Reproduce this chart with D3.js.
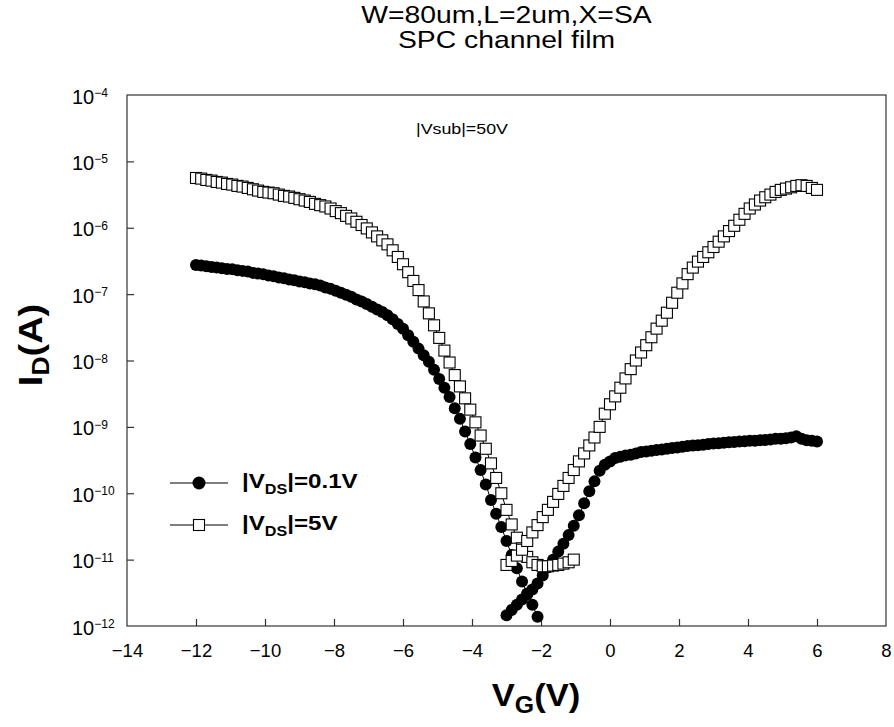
<!DOCTYPE html>
<html>
<head>
<meta charset="utf-8">
<script src="https://cdn.jsdelivr.net/npm/d3@7/dist/d3.min.js"></script>
<style>
  html, body { margin: 0; padding: 0; background: #fff; }
  svg { display: block; font-family: "Liberation Sans", Arial, sans-serif; }
</style>
</head>
<body>
<svg id="chart" width="894" height="727"></svg>
<script>
// Gate voltage sweeps (V)
const vgLeft = [-12, -11.85, -11.7, -11.55, -11.4, -11.25, -11.1, -10.95, -10.8, -10.65,
  -10.5, -10.35, -10.2, -10.05, -9.9, -9.75, -9.6, -9.45, -9.3, -9.15,
  -9, -8.85, -8.7, -8.55, -8.4, -8.25, -8.1, -7.95, -7.8, -7.65,
  -7.5, -7.35, -7.2, -7.05, -6.9, -6.75, -6.6, -6.45, -6.3, -6.15,
  -6, -5.85, -5.7, -5.55, -5.4, -5.25, -5.1, -4.95, -4.8, -4.65,
  -4.5, -4.35, -4.2, -4.05, -3.9, -3.75, -3.6, -3.45, -3.3, -3.15,
  -3, -2.85, -2.7, -2.55, -2.4, -2.25, -2.1, -1.95, -1.8, -1.65,
  -1.5, -1.35, -1.2, -1.05];
const vgRight = [-3, -2.85, -2.7, -2.55, -2.4, -2.25, -2.1, -1.95, -1.8, -1.65,
  -1.5, -1.35, -1.2, -1.05, -0.9, -0.75, -0.6, -0.45, -0.3, -0.15,
  0, 0.15, 0.3, 0.45, 0.6, 0.75, 0.9, 1.05, 1.2, 1.35,
  1.5, 1.65, 1.8, 1.95, 2.1, 2.25, 2.4, 2.55, 2.7, 2.85,
  3, 3.15, 3.3, 3.45, 3.6, 3.75, 3.9, 4.05, 4.2, 4.35,
  4.5, 4.65, 4.8, 4.95, 5.1, 5.25, 5.4, 5.55, 5.7, 5.85, 6];

// Drain current (A), |VDS| = 0.1 V
const idLow_left = [2.75e-7, 2.69e-7, 2.63e-7, 2.57e-7, 2.51e-7, 2.45e-7, 2.40e-7, 2.38e-7, 2.29e-7, 2.24e-7,
  2.19e-7, 2.09e-7, 2.04e-7, 2.00e-7, 1.91e-7, 1.86e-7, 1.78e-7, 1.74e-7, 1.66e-7, 1.62e-7,
  1.55e-7, 1.51e-7, 1.45e-7, 1.41e-7, 1.35e-7, 1.26e-7, 1.20e-7, 1.12e-7, 1.05e-7, 9.77e-8,
  9.12e-8, 8.32e-8, 7.76e-8, 7.08e-8, 6.46e-8, 5.89e-8, 5.37e-8, 4.79e-8, 4.17e-8, 3.55e-8,
  3.02e-8, 2.40e-8, 1.91e-8, 1.51e-8, 1.20e-8, 9.55e-9, 7.24e-9, 5.25e-9, 3.89e-9, 2.82e-9,
  1.91e-9, 1.32e-9, 8.51e-10, 5.50e-10, 3.47e-10, 2.24e-10, 1.35e-10, 7.94e-11, 4.90e-11, 3.09e-11,
  1.91e-11, 1.17e-11, 7.41e-12, 4.68e-12, 3.09e-12, 2.09e-12, 1.38e-12];
const idLow_right = [1.45e-12, 1.74e-12, 2.09e-12, 2.51e-12, 3.02e-12, 3.55e-12, 4.37e-12, 5.75e-12, 7.59e-12, 1.00e-11,
  1.32e-11, 1.74e-11, 2.34e-11, 3.24e-11, 4.68e-11, 7.08e-11, 1.07e-10, 1.51e-10, 2.19e-10, 2.69e-10,
  3.02e-10, 3.39e-10, 3.55e-10, 3.72e-10, 3.80e-10, 3.98e-10, 4.17e-10, 4.27e-10, 4.37e-10, 4.47e-10,
  4.57e-10, 4.68e-10, 4.79e-10, 4.90e-10, 5.01e-10, 5.13e-10, 5.25e-10, 5.30e-10, 5.37e-10, 5.50e-10,
  5.62e-10, 5.65e-10, 5.75e-10, 5.89e-10, 5.90e-10, 6.03e-10, 6.05e-10, 6.17e-10, 6.20e-10, 6.31e-10,
  6.33e-10, 6.46e-10, 6.61e-10, 6.63e-10, 6.76e-10, 6.92e-10, 7.24e-10, 6.61e-10, 6.31e-10, 6.17e-10, 6.03e-10];

// Drain current (A), |VDS| = 5 V
const idHigh_left = [5.62e-6, 5.50e-6, 5.25e-6, 5.13e-6, 4.90e-6, 4.79e-6, 4.57e-6, 4.47e-6, 4.27e-6, 4.17e-6,
  3.98e-6, 3.80e-6, 3.63e-6, 3.47e-6, 3.39e-6, 3.31e-6, 3.16e-6, 3.02e-6, 2.95e-6, 2.82e-6,
  2.69e-6, 2.57e-6, 2.45e-6, 2.29e-6, 2.19e-6, 2.09e-6, 1.95e-6, 1.78e-6, 1.66e-6, 1.51e-6,
  1.38e-6, 1.23e-6, 1.10e-6, 9.77e-7, 8.51e-7, 7.41e-7, 6.46e-7, 5.62e-7, 4.57e-7, 3.63e-7,
  2.82e-7, 2.14e-7, 1.58e-7, 1.15e-7, 7.76e-8, 5.13e-8, 3.39e-8, 2.19e-8, 1.41e-8, 9.33e-9,
  6.03e-9, 4.07e-9, 2.69e-9, 1.82e-9, 1.17e-9, 7.41e-10, 4.68e-10, 2.82e-10, 1.70e-10, 1.00e-10,
  5.62e-11, 3.39e-11, 2.14e-11, 1.48e-11, 1.10e-11, 9.12e-12, 8.32e-12, 7.94e-12, 7.94e-12, 8.13e-12,
  8.32e-12, 8.71e-12, 9.12e-12, 1.00e-11];
const idHigh_right = [8.32e-12, 9.55e-12, 1.15e-11, 1.41e-11, 1.91e-11, 2.57e-11, 3.31e-11, 4.37e-11, 5.62e-11, 7.41e-11,
  9.77e-11, 1.29e-10, 1.70e-10, 2.24e-10, 3.02e-10, 3.98e-10, 5.25e-10, 6.92e-10, 1.00e-9, 1.58e-9,
  2.19e-9, 2.88e-9, 3.89e-9, 5.37e-9, 7.41e-9, 1.00e-8, 1.32e-8, 1.70e-8, 2.24e-8, 3.02e-8,
  3.98e-8, 5.25e-8, 7.41e-8, 1.05e-7, 1.45e-7, 2.00e-7, 2.51e-7, 3.09e-7, 3.63e-7, 4.27e-7,
  5.13e-7, 6.17e-7, 7.41e-7, 8.91e-7, 1.07e-6, 1.32e-6, 1.62e-6, 1.95e-6, 2.24e-6, 2.57e-6,
  2.88e-6, 3.16e-6, 3.47e-6, 3.72e-6, 3.89e-6, 4.07e-6, 4.27e-6, 4.37e-6, 4.27e-6, 3.98e-6, 3.72e-6];

// Axis ticks
const xTicks = [-14, -12, -10, -8, -6, -4, -2, 0, 2, 4, 6, 8];
const yExponents = [-4, -5, -6, -7, -8, -9, -10, -11, -12];

const titleLines = ["W=80um,L=2um,X=SA", "SPC channel film"];
const annotation = "|Vsub|=50V";

const W = 894, H = 727;
const margin = { top: 95, right: 8, bottom: 101, left: 127 };
const svg = d3.select("#chart");
const minus = v => (v < 0 ? "\u2212" + Math.abs(v) : String(v));

const x = d3.scaleLinear().domain([-14, 8]).range([margin.left, W - margin.right]);
const y = d3.scaleLog().domain([1e-12, 1e-4]).range([H - margin.bottom, margin.top]);

// Text block with a slight horizontal widening of the glyphs
function wideText(parent, px, py, sx, rotate) {
  const g = parent.append("g")
    .attr("transform", `translate(${px},${py})` + (rotate ? ` rotate(${rotate})` : "") + ` scale(${sx},1)`);
  return g.append("text").attr("x", 0).attr("y", 0).attr("fill", "#000");
}

// Frame: left/bottom axes with inward ticks, plain right and top edges
svg.append("rect")
  .attr("x", x(-14)).attr("y", y(1e-4))
  .attr("width", x(8) - x(-14)).attr("height", y(1e-12) - y(1e-4))
  .attr("fill", "none").attr("stroke", "#333").attr("stroke-width", 1.2);

const xAxis = d3.axisBottom(x).tickValues(xTicks).tickSize(-7).tickPadding(18)
  .tickFormat(minus);
const gx = svg.append("g").attr("transform", `translate(0,${y(1e-12)})`).call(xAxis);
gx.select(".domain").remove();
gx.selectAll(".tick line").attr("stroke", "#333").attr("stroke-width", 1.2);
gx.selectAll(".tick text").attr("font-size", 18.5).attr("fill", "#000")
  .attr("font-family", "'Liberation Sans', Arial, sans-serif");
gx.selectAll(".tick").filter(d => d === -14 || d === 8).select("line").remove();

const yAxis = d3.axisLeft(y).tickValues(yExponents.map(e => Math.pow(10, e))).tickSize(-7).tickFormat("");
const gy = svg.append("g").attr("transform", `translate(${x(-14)},0)`).call(yAxis);
gy.select(".domain").remove();
gy.selectAll(".tick line").attr("stroke", "#333").attr("stroke-width", 1.2);
gy.selectAll(".tick").filter(d => d >= 1e-4 * 0.99 || d <= 1e-12 * 1.01).select("line").remove();

// Power-of-ten tick labels, left aligned
const yl = svg.append("g").attr("fill", "#000");
yExponents.forEach(e => {
  const t = yl.append("text")
    .attr("x", 72).attr("y", y(Math.pow(10, e)) + 8.5)
    .attr("text-anchor", "start").attr("font-size", 20);
  t.append("tspan").text("10");
  t.append("tspan").attr("dy", -6.5).attr("font-size", 12).text(minus(e));
});

// Series lines, then markers drawn in sweep order
const line = d3.line().x(d => x(d[0])).y(d => y(d[1]));
const series = [
  { vg: vgLeft, id: idLow_left, kind: "circle" },
  { vg: vgRight, id: idLow_right, kind: "circle" },
  { vg: vgLeft, id: idHigh_left, kind: "square" },
  { vg: vgRight, id: idHigh_right, kind: "square" }
];
const plot = svg.append("g");
series.forEach(s => {
  plot.append("path").datum(d3.zip(s.vg, s.id)).attr("d", line)
    .attr("fill", "none").attr("stroke", "#000").attr("stroke-width", 1);
});
series.forEach(s => {
  const pts = d3.zip(s.vg, s.id);
  if (s.kind === "circle") {
    plot.append("g").selectAll("circle").data(pts).join("circle")
      .attr("cx", d => x(d[0])).attr("cy", d => y(d[1])).attr("r", 6)
      .attr("fill", "#000");
  } else {
    plot.append("g").selectAll("rect").data(pts).join("rect")
      .attr("x", d => x(d[0]) - 5.5).attr("y", d => y(d[1]) - 5.5)
      .attr("width", 11).attr("height", 11)
      .attr("fill", "#fff").attr("stroke", "#000").attr("stroke-width", 1.1);
  }
});

// Titles and annotation
const midX = (x(-14) + x(8)) / 2;
titleLines.forEach((s, i) => {
  wideText(svg, midX, 23 + i * 25, 1.18)
    .attr("text-anchor", "middle").attr("font-size", 24).text(s);
});
wideText(svg, 462, 134, 1.15)
  .attr("text-anchor", "middle").attr("font-size", 15.5).text(annotation);

// Axis titles
const xt = wideText(svg, 536, 706, 1.08)
  .attr("text-anchor", "middle").attr("font-size", 32).attr("font-weight", "bold");
xt.append("tspan").text("V");
xt.append("tspan").attr("dy", 7).attr("font-size", 23).text("G");
xt.append("tspan").attr("dy", -7).text("(V)");

const yt = wideText(svg, 42, 345, 1.15, -90)
  .attr("text-anchor", "middle").attr("font-size", 33).attr("font-weight", "bold");
yt.append("tspan").text("I");
yt.append("tspan").attr("dy", 7).attr("font-size", 23).text("D");
yt.append("tspan").attr("dy", -7).text("(A)");

// Legend
const legendItems = [
  { kind: "circle", sub: "DS", label: "=0.1V" },
  { kind: "square", sub: "DS", label: "=5V" }
];
const lg = svg.append("g");
legendItems.forEach((it, i) => {
  const cy = 483 + i * 42;
  lg.append("line").attr("x1", 170).attr("x2", 228).attr("y1", cy).attr("y2", cy)
    .attr("stroke", "#000").attr("stroke-width", 1.2);
  if (it.kind === "circle") {
    lg.append("circle").attr("cx", 199).attr("cy", cy).attr("r", 6.5).attr("fill", "#000");
  } else {
    lg.append("rect").attr("x", 193.5).attr("y", cy - 5.5).attr("width", 11).attr("height", 11)
      .attr("fill", "#fff").attr("stroke", "#000").attr("stroke-width", 1.1);
  }
  const t = wideText(lg, 242, cy + 5, 1.15)
    .attr("font-size", 21).attr("font-weight", "bold");
  t.append("tspan").text("|V");
  t.append("tspan").attr("dy", 6).attr("font-size", 14).text(it.sub);
  t.append("tspan").attr("dy", -6).text("|" + it.label);
});
</script>
</body>
</html>
